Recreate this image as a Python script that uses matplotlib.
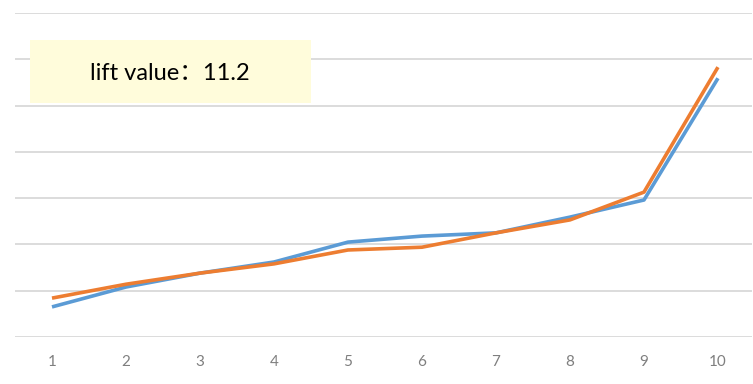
import matplotlib.pyplot as plt
from matplotlib.patches import Rectangle

# decile lift curves
deciles = list(range(1, 11))
actual = [0.65, 1.08, 1.38, 1.62, 2.05, 2.18, 2.25, 2.59, 2.96, 5.59]
predicted = [0.84, 1.14, 1.38, 1.58, 1.88, 1.94, 2.25, 2.53, 3.13, 5.83]
lift_text = 'lift value：11.2'

fig = plt.figure(figsize=(7.53, 3.84), dpi=100)
ax = fig.add_axes([15 / 753, 47 / 384, 737 / 753, 324 / 384])

ax.plot(deciles, actual, color='#5B9BD5', linewidth=2.6, solid_capstyle='butt')
ax.plot(deciles, predicted, color='#ED7D31', linewidth=2.6, solid_capstyle='butt')

ax.set_xlim(0.5, 10.46)
ax.set_ylim(0, 7)
ax.set_yticks(range(0, 8))
ax.set_yticklabels([])
ax.set_xticks(deciles)
ax.set_xticklabels([str(d) for d in deciles], color='#7F7F7F', fontsize=11,
                   family=['Lato', 'DejaVu Sans'])
ax.tick_params(axis='both', length=0)
ax.tick_params(axis='x', pad=13)
ax.grid(axis='y', color='#D9D9D9', linewidth=1.3)
ax.set_axisbelow(True)
for side in ['top', 'right', 'left', 'bottom']:
    ax.spines[side].set_visible(False)

# annotation box with the lift value
fig.patches.append(Rectangle((30 / 753, 1 - 103 / 384), 281 / 753, 63 / 384,
                             transform=fig.transFigure, facecolor='#FFFCDB',
                             edgecolor='none', zorder=5))
fig.text(170 / 753, 1 - 73 / 384, lift_text, ha='center', va='center',
         fontsize=17, color='black', zorder=6,
         family=['Lato', 'Noto Sans CJK SC'])

fig.savefig('out.png', dpi=100)
